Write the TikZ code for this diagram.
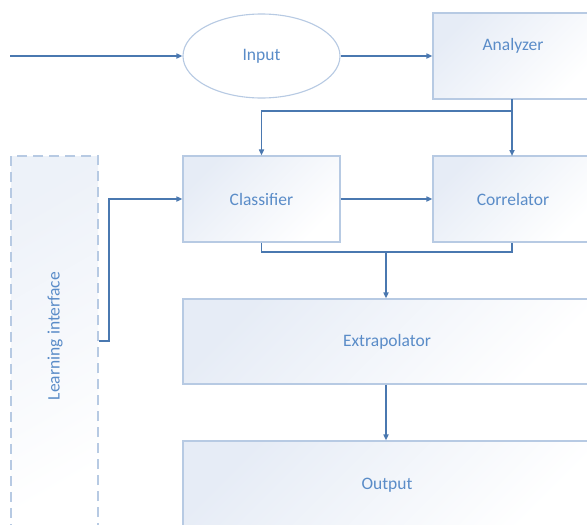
\documentclass[tikz,border=0pt]{standalone}
\usepackage{fontspec}
\setmainfont{Carlito}
\usetikzlibrary{arrows.meta,shapes.geometric,calc}
\definecolor{linec}{HTML}{4A78B0}
\definecolor{edgec}{HTML}{B7CAE3}
\definecolor{txtc}{HTML}{5A8CC8}
\definecolor{fillc}{HTML}{E6ECF6}
\tikzset{
  box/.style={draw=edgec, line width=1.1pt, rectangle, shading=axis, top color=fillc, bottom color=white, shading angle=45, text=txtc, font=\fontsize{17.5}{20}\selectfont, inner sep=0pt},
  ell/.style={draw=edgec, line width=1.1pt, ellipse, fill=white, text=txtc, font=\fontsize{17.5}{20}\selectfont, inner sep=0pt, minimum width=157pt, minimum height=84pt},
  dbox/.style={draw=edgec, line width=2pt, dash pattern=on 10pt off 6pt, shading=axis, top color=fillc!70, bottom color=white, shading angle=30, inner sep=0pt},
  conn/.style={draw=linec, line width=1.7pt},
  arr/.style={conn, -{Triangle[length=6pt,width=5pt]}},
  lbl/.style={text=txtc, font=\fontsize{17.5}{20}\selectfont}
}
\begin{document}
\begin{tikzpicture}[x=1pt,y=-1pt]
\useasboundingbox (0,0) rectangle (587,525);
\clip (0,0) rectangle (587,525);
\fill[white] (0,0) rectangle (587,525);
% nodes
\node[ell] (inp) at (261.5,56) {Input};
\node[box, minimum width=160pt, minimum height=86pt] (ana) at (513,56) {};
\node[lbl] (analbl) at (513,46) {Analyzer};
\node[box, minimum width=157pt, minimum height=86pt] (cla) at (261.5,199) {Classifier};
\node[box, minimum width=160pt, minimum height=86pt] (cor) at (513,199) {Correlator};
\node[box, minimum width=408pt, minimum height=85pt] (ext) at (387,341.5) {Extrapolator};
\node[box, minimum width=408pt, minimum height=88pt] (out) at (387,485) {Output};
\node[dbox, minimum width=87pt, minimum height=370pt] (lif) at (54.5,341) {};
\node[lbl, rotate=90] (liflbl) at (55,336) {Learning interface};
% coordinates
\coordinate (start) at (10,56);
\coordinate (anab) at (512,99);
\coordinate (corn) at (512,156);
\coordinate (split) at (512,111);
\coordinate (merge) at (386,252);
% connectors
\draw[arr] (start) -- (inp.west);
\draw[arr] (inp.east) -- (ana.west |- inp.east);
\draw[arr] (anab) -- (corn);
\draw[arr] (split) -| (cla.north);
\draw[arr] (cla.east) -- (cor.west);
\draw[arr] (lif.east) -- ++(10,0) |- (cla.west);
\draw[conn] (cla.south) -- (cla.south |- merge) -- (corn |- merge) -- (corn |- cor.south);
\draw[arr] (merge) -- (merge |- ext.north);
\draw[arr] (merge |- ext.south) -- (merge |- out.north);
\end{tikzpicture}
\end{document}
